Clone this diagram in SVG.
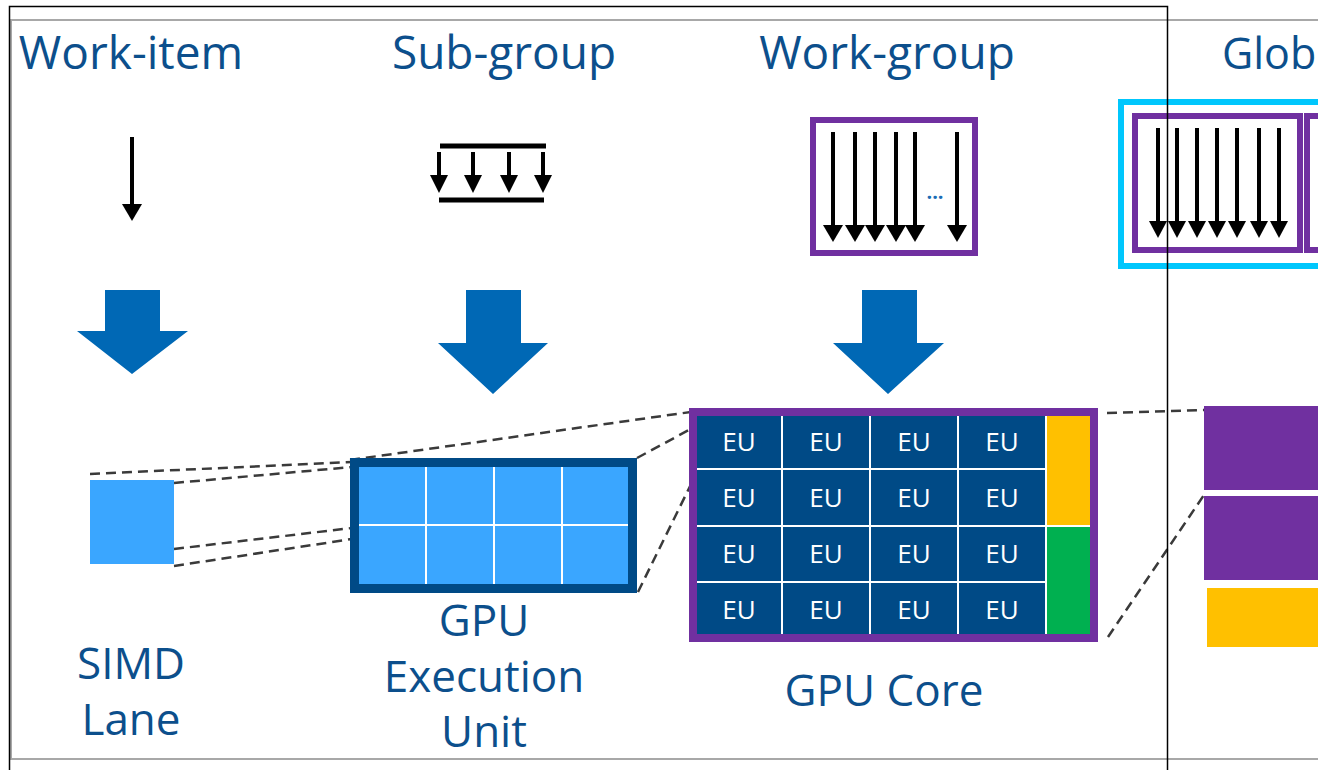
<svg xmlns="http://www.w3.org/2000/svg" width="1318" height="770" viewBox="0 0 1318 770">
  <style>
    .title { font-family: "Open Sans", "Noto Sans", "Liberation Sans", sans-serif; font-size: 46px; fill: #0c4f8c; text-anchor: middle; }
    .label { font-family: "Open Sans", "Noto Sans", "Liberation Sans", sans-serif; font-size: 44px; fill: #0c4f8c; text-anchor: middle; }
    .eu { font-family: "Open Sans", "Noto Sans", "Liberation Sans", sans-serif; font-size: 26px; fill: #ffffff; text-anchor: middle; }
    .shaft { stroke: #000; stroke-width: 4; }
    .head { fill: #000; }
    .big { fill: #0068b5; }
    .dash { stroke: #3a3a3a; stroke-width: 2.5; stroke-dasharray: 10 6; fill: none; }
    .grid { stroke: #ffffff; stroke-width: 2; }
    .purple { fill: none; stroke: #7030a0; }
  </style>

  <!-- page frame -->
  <rect x="0" y="0" width="1318" height="770" fill="#ffffff"/>
  <rect x="11" y="20" width="1400" height="739" fill="none" stroke="#a8a8a8" stroke-width="2"/>

  <!-- column headings -->
  <text class="title" x="131" y="69">Work-item</text>
  <text class="title" x="504" y="69">Sub-group</text>
  <text class="title" x="887" y="69">Work-group</text>
  <text class="title" x="1222" y="69" style="text-anchor:start;font-size:43px">Glob</text>

  <!-- work-item icon -->
  <g id="work-item-icon">
    <line class="shaft" x1="132" y1="137" x2="132" y2="206"/>
    <polygon class="head" points="122,204 142,204 132,221"/>
  </g>

  <!-- sub-group icon -->
  <g id="sub-group-icon">
    <line x1="440" y1="146" x2="546" y2="146" stroke="#000" stroke-width="5"/>
    <line x1="439" y1="200" x2="544" y2="200" stroke="#000" stroke-width="5"/>
    <line class="shaft" x1="439" y1="152" x2="439" y2="177"/>
    <polygon class="head" points="430,175 448,175 439,193"/>
    <line class="shaft" x1="473" y1="152" x2="473" y2="177"/>
    <polygon class="head" points="464,175 482,175 473,193"/>
    <line class="shaft" x1="509" y1="152" x2="509" y2="177"/>
    <polygon class="head" points="500,175 518,175 509,193"/>
    <line class="shaft" x1="543" y1="152" x2="543" y2="177"/>
    <polygon class="head" points="534,175 552,175 543,193"/>
  </g>

  <!-- work-group icon -->
  <g id="work-group-icon">
    <rect class="purple" x="813" y="120" width="162" height="133" stroke-width="6"/>
    <g>
      <line class="shaft" x1="833" y1="132" x2="833" y2="227"/>
      <polygon class="head" points="823,225 843,225 833,242"/>
      <line class="shaft" x1="855" y1="132" x2="855" y2="227"/>
      <polygon class="head" points="845,225 865,225 855,242"/>
      <line class="shaft" x1="875" y1="132" x2="875" y2="227"/>
      <polygon class="head" points="865,225 885,225 875,242"/>
      <line class="shaft" x1="896" y1="132" x2="896" y2="227"/>
      <polygon class="head" points="886,225 906,225 896,242"/>
      <line class="shaft" x1="915" y1="132" x2="915" y2="227"/>
      <polygon class="head" points="905,225 925,225 915,242"/>
      <line class="shaft" x1="957" y1="132" x2="957" y2="227"/>
      <polygon class="head" points="947,225 967,225 957,242"/>
    </g>
    <text x="935" y="199" font-family="Open Sans, Liberation Sans, sans-serif" font-size="20" font-weight="bold" fill="#1a6cb5" text-anchor="middle">...</text>
  </g>

  <!-- global icon (runs past the page edge) -->
  <g id="global-icon">
    <rect x="1121" y="102" width="260" height="164" fill="none" stroke="#00c7fd" stroke-width="6"/>
    <rect class="purple" x="1135" y="116" width="165" height="134" stroke-width="6"/>
    <rect class="purple" x="1307" y="116" width="165" height="134" stroke-width="6"/>
    <line class="shaft" x1="1158" y1="128" x2="1158" y2="223"/>
    <polygon class="head" points="1149,221 1167,221 1158,238"/>
    <line class="shaft" x1="1177" y1="128" x2="1177" y2="223"/>
    <polygon class="head" points="1168,221 1186,221 1177,238"/>
    <line class="shaft" x1="1197" y1="128" x2="1197" y2="223"/>
    <polygon class="head" points="1188,221 1206,221 1197,238"/>
    <line class="shaft" x1="1217" y1="128" x2="1217" y2="223"/>
    <polygon class="head" points="1208,221 1226,221 1217,238"/>
    <line class="shaft" x1="1237" y1="128" x2="1237" y2="223"/>
    <polygon class="head" points="1228,221 1246,221 1237,238"/>
    <line class="shaft" x1="1259" y1="128" x2="1259" y2="223"/>
    <polygon class="head" points="1250,221 1268,221 1259,238"/>
    <line class="shaft" x1="1279" y1="128" x2="1279" y2="223"/>
    <polygon class="head" points="1270,221 1288,221 1279,238"/>
  </g>

  <!-- mapping arrows -->
  <g id="map-arrows">
    <polygon class="big" points="105,290 160,290 160,331 188,331 132,374 77,331 105,331"/>
    <polygon class="big" points="466,290 521,290 521,343 548,343 493,394 438,343 466,343"/>
    <polygon class="big" points="862,290 917,290 917,343 944,343 888,394 833,343 862,343"/>
  </g>

  <!-- zoom connectors -->
  <g id="connectors">
    <line class="dash" x1="90" y1="474" x2="352" y2="462"/>
    <line class="dash" x1="174" y1="483" x2="352" y2="467"/>
    <line class="dash" x1="174" y1="549" x2="352" y2="528"/>
    <line class="dash" x1="174" y1="566" x2="352" y2="539"/>
    <line class="dash" x1="350" y1="460" x2="712" y2="409"/>
    <line class="dash" x1="637" y1="458" x2="700" y2="424"/>
    <line class="dash" x1="638" y1="592" x2="700" y2="466"/>
    <line class="dash" x1="1107" y1="413" x2="1206" y2="410"/>
    <line class="dash" x1="1108" y1="637" x2="1206" y2="492"/>
  </g>

  <!-- SIMD lane -->
  <g id="simd-lane">
    <rect x="90" y="480" width="84" height="84" fill="#3aa6ff"/>
    <text class="label" x="131" y="679">SIMD</text>
    <text class="label" x="131" y="735">Lane</text>
  </g>

  <!-- GPU execution unit -->
  <g id="execution-unit">
    <rect x="354.5" y="462.5" width="278" height="126" fill="#3aa6ff" stroke="#004a86" stroke-width="9"/>
    <line class="grid" x1="426" y1="467" x2="426" y2="584"/>
    <line class="grid" x1="494" y1="467" x2="494" y2="584"/>
    <line class="grid" x1="562" y1="467" x2="562" y2="584"/>
    <line class="grid" x1="359" y1="525" x2="628" y2="525"/>
    <text class="label" x="484" y="636">GPU</text>
    <text class="label" x="484" y="692">Execution</text>
    <text class="label" x="484" y="747">Unit</text>
  </g>

  <!-- GPU core -->
  <g id="gpu-core">
    <rect x="697" y="416" width="393" height="218" fill="#004a86"/>
    <rect x="1047" y="416" width="43" height="109" fill="#ffc000"/>
    <rect x="1047" y="527" width="43" height="107" fill="#00b050"/>
    <line class="grid" x1="782" y1="416" x2="782" y2="634"/>
    <line class="grid" x1="870" y1="416" x2="870" y2="634"/>
    <line class="grid" x1="958" y1="416" x2="958" y2="634"/>
    <line class="grid" x1="1046" y1="416" x2="1046" y2="634"/>
    <line class="grid" x1="697" y1="469" x2="1046" y2="469"/>
    <line class="grid" x1="697" y1="526" x2="1090" y2="526"/>
    <line class="grid" x1="697" y1="582" x2="1046" y2="582"/>
    <g>
      <text class="eu" x="739" y="451">EU</text>
      <text class="eu" x="826" y="451">EU</text>
      <text class="eu" x="914" y="451">EU</text>
      <text class="eu" x="1002" y="451">EU</text>
      <text class="eu" x="739" y="507">EU</text>
      <text class="eu" x="826" y="507">EU</text>
      <text class="eu" x="914" y="507">EU</text>
      <text class="eu" x="1002" y="507">EU</text>
      <text class="eu" x="739" y="563">EU</text>
      <text class="eu" x="826" y="563">EU</text>
      <text class="eu" x="914" y="563">EU</text>
      <text class="eu" x="1002" y="563">EU</text>
      <text class="eu" x="739" y="619">EU</text>
      <text class="eu" x="826" y="619">EU</text>
      <text class="eu" x="914" y="619">EU</text>
      <text class="eu" x="1002" y="619">EU</text>
    </g>
    <rect class="purple" x="693" y="412" width="401" height="226" stroke-width="8"/>
    <text class="label" x="884" y="706">GPU Core</text>
  </g>

  <!-- GPU (runs past the page edge) -->
  <g id="gpu">
    <rect x="1204" y="406" width="200" height="84" fill="#7030a0"/>
    <rect x="1204" y="496" width="200" height="84" fill="#7030a0"/>
    <rect x="1207" y="588" width="200" height="59" fill="#ffc000"/>
  </g>

  <!-- outer frame -->
  <rect x="9.5" y="6.5" width="1158" height="800" fill="none" stroke="#000" stroke-width="1.5"/>
</svg>
